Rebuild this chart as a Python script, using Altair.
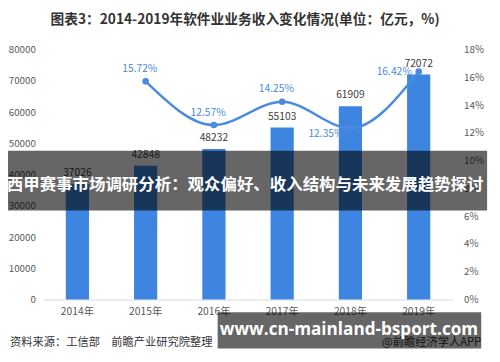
import altair as alt
import pandas as pd

years = ["2014年", "2015年", "2016年", "2017年", "2018年", "2019年"]
revenue = [37026, 42848, 48232, 55103, 61909, 72072]
growth = [None, 15.72, 12.57, 14.25, 12.35, 16.42]

df = pd.DataFrame({"year": years, "revenue": revenue, "growth": growth})

FONT = "Noto Sans CJK SC"
BAR = "#3d85e0"
LINE = "#4a8ae0"

xenc = alt.X("year:N", sort=years, title=None,
             scale=alt.Scale(paddingInner=0.66, paddingOuter=0.33),
             axis=alt.Axis(labelAngle=0, ticks=False, domainColor="#d9d9d9",
                           labelColor="#595959", labelFont=FONT, labelFontSize=10.5,
                           labelPadding=7, grid=False))

yl = alt.Scale(domain=[0, 80000], nice=False)
yr = alt.Scale(domain=[0, 18], nice=False)

base = alt.Chart(df)

bars = base.mark_bar(color=BAR).encode(
    x=xenc,
    y=alt.Y("revenue:Q", scale=yl, title=None,
            axis=alt.Axis(values=list(range(0, 80001, 10000)), format="d", ticks=False,
                          domain=False, grid=False, labelColor="#595959", labelFont=FONT,
                          labelFontSize=10, labelPadding=8)),
)
bar_lbl = base.mark_text(color="#404040", font=FONT, fontSize=10.5, dy=-11,
                         baseline="middle").encode(
    x=alt.X("year:N", sort=years), y=alt.Y("revenue:Q", scale=yl, axis=None),
    text=alt.Text("revenue:Q", format="d"))

gbase = base.transform_filter("isValid(datum.growth)")
line = gbase.mark_line(interpolate="monotone", color=LINE, strokeWidth=2.5).encode(
    x=alt.X("year:N", sort=years),
    y=alt.Y("growth:Q", scale=yr, title=None,
            axis=alt.Axis(orient="right", values=list(range(0, 19, 2)),
                          labelExpr="datum.value + '%'", ticks=False, domain=False,
                          grid=False, labelColor="#595959", labelFont=FONT,
                          labelFontSize=10, labelPadding=11)),
)
pts = gbase.mark_circle(color=LINE, size=45, opacity=1).encode(
    x=alt.X("year:N", sort=years), y=alt.Y("growth:Q", scale=yr, axis=None))


def glabel_pct(filt, dx, dy):
    return gbase.transform_filter(filt).transform_calculate(
        lbl="format(datum.growth, '.2f') + '%'"
    ).mark_text(color=LINE, font=FONT, fontSize=10.5, dx=dx, dy=dy, baseline="middle"
    ).encode(x=alt.X("year:N", sort=years), y=alt.Y("growth:Q", scale=yr, axis=None),
             text="lbl:N")


lblA = glabel_pct("datum.year == '2015年' || datum.year == '2016年' || datum.year == '2017年'", -6, -12.5)
lblB = glabel_pct("datum.year == '2018年'", -25, 6)
lblC = glabel_pct("datum.year == '2019年'", -25, 0)

one = alt.Chart(pd.DataFrame({"k": [0]}))

title = one.mark_text(text="图表3：2014-2019年软件业业务收入变化情况(单位：亿元，%)",
                      font=FONT, fontSize=14, fontWeight="bold", color="#333333",
                      align="center", baseline="middle").encode(
    x=alt.value(206), y=alt.value(-30))

source = one.mark_text(text="资料来源：工信部　前瞻产业研究院整理", font=FONT, fontSize=11.5,
                       color="#333333", align="left", baseline="middle").encode(
    x=alt.value(-34), y=alt.value(299))
app = one.mark_text(text="@前瞻经济学人APP", font=FONT, fontSize=11.5, color="#333333",
                    align="right", baseline="middle").encode(
    x=alt.value(447), y=alt.value(299))

band = one.mark_rect(color="black", opacity=0.6).encode(
    x=alt.value(-41), x2=alt.value(453), y=alt.value(103), y2=alt.value(164))
band_txt = one.mark_text(text="西甲赛事市场调研分析：观众偏好、收入结构与未来发展趋势探讨",
                         font=FONT, fontSize=16.8, fontWeight="bold", color="white",
                         align="center", baseline="middle").encode(
    x=alt.value(206), y=alt.value(138))

banner = one.mark_rect(color="black", opacity=0.6).encode(
    x=alt.value(178), x2=alt.value(447), y=alt.value(268), y2=alt.value(305))
banner_txt = one.mark_text(text="www.cn-mainland-bsport.com", font="Open Sans",
                           fontSize=17.5, fontWeight="bold", color="white",
                           align="center", baseline="middle").encode(
    x=alt.value(312), y=alt.value(286))

chart = alt.layer(
    bars, bar_lbl, line, pts, lblA, lblB, lblC,
    title, source, app, band, band_txt, banner, banner_txt
).resolve_scale(y="independent").properties(
    width=418, height=255,
    autosize=alt.AutoSizeParams(type="none"),
    padding={"left": 36, "top": 39, "right": 40, "bottom": 52},
).configure_view(stroke=None)

chart.save("out.html", embed_options={"renderer": "svg", "actions": False})
